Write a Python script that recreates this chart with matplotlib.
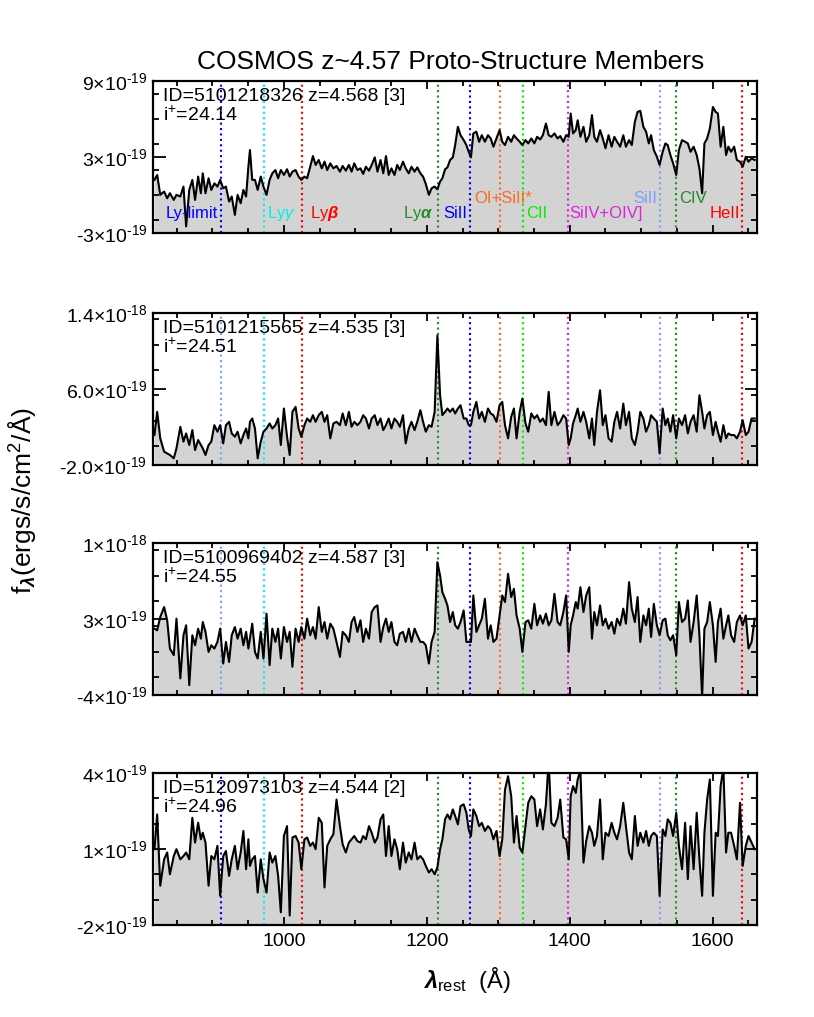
import matplotlib

matplotlib.use("Agg")
import matplotlib.pyplot as plt
import numpy as np
from matplotlib.ticker import FixedLocator, FixedFormatter, MultipleLocator

plt.rcParams["font.family"] = ["Liberation Sans", "DejaVu Sans"]
plt.rcParams["mathtext.fontset"] = "custom"
plt.rcParams["mathtext.rm"] = "Liberation Sans"
plt.rcParams["mathtext.it"] = "Liberation Sans:italic"
plt.rcParams["mathtext.bf"] = "Liberation Sans:bold:italic"

# rest-frame wavelength grid (Angstrom) shared by the four spectra
wave = [
    819.0, 822.8, 827.1, 832.5, 836.8, 840.6, 846.0, 849.8, 855.2, 859.6,
    863.3, 867.7, 872.0, 875.8, 880.1, 883.9, 886.6, 890.4, 894.7, 898.5,
    902.8, 907.1, 910.9, 915.2, 919.0, 923.4, 927.1, 931.5, 935.3, 939.6,
    943.4, 947.2, 950.4, 952.6, 955.8, 959.6, 963.4, 967.7, 971.5, 975.8,
    980.1, 983.9, 988.2, 992.0, 995.8, 1000.1, 1004.5, 1008.2, 1012.0, 1016.4,
    1020.7, 1024.5, 1028.8, 1032.6, 1036.9, 1040.7, 1044.5, 1048.8, 1053.1, 1056.9,
    1060.7, 1065.0, 1069.3, 1073.7, 1078.5, 1082.3, 1086.7, 1091.0, 1094.8, 1098.5,
    1102.9, 1107.2, 1111.0, 1114.8, 1119.1, 1122.9, 1127.2, 1131.0, 1135.3, 1139.1,
    1142.9, 1146.7, 1150.5, 1154.8, 1158.6, 1162.3, 1166.7, 1170.5, 1174.8, 1178.6,
    1182.9, 1186.7, 1191.0, 1194.8, 1198.6, 1202.9, 1206.7, 1211.0, 1214.8, 1218.6,
    1221.8, 1225.6, 1228.9, 1232.6, 1236.4, 1239.7, 1243.5, 1247.2, 1251.6, 1255.4,
    1258.6, 1261.8, 1265.1, 1269.4, 1273.2, 1277.0, 1281.3, 1285.6, 1289.4, 1293.2,
    1297.5, 1301.8, 1305.6, 1309.4, 1313.7, 1318.1, 1321.9, 1325.6, 1330.0, 1333.7,
    1338.1, 1341.9, 1346.2, 1350.5, 1354.3, 1358.6, 1362.4, 1366.7, 1370.5, 1374.3,
    1378.6, 1383.0, 1386.7, 1391.1, 1394.9, 1398.6, 1401.3, 1404.6, 1408.4, 1411.1,
    1414.9, 1419.2, 1423.0, 1427.3, 1431.1, 1434.3, 1438.1, 1442.4, 1446.2, 1450.0,
    1454.3, 1458.6, 1462.4, 1466.2, 1470.5, 1474.9, 1478.6, 1483.0, 1486.8, 1491.1,
    1494.9, 1498.7, 1503.0, 1506.8, 1510.6, 1513.8, 1517.6, 1521.9, 1525.7, 1530.0,
    1533.8, 1537.1, 1540.8, 1544.6, 1549.0, 1552.7, 1557.1, 1561.4, 1565.2, 1569.0,
    1573.3, 1577.6, 1581.4, 1585.2, 1588.4, 1592.2, 1596.0, 1600.3, 1604.1, 1607.3,
    1611.1, 1614.9, 1618.7, 1621.9, 1625.7, 1630.0, 1633.8, 1638.2, 1641.9, 1646.3,
    1650.1, 1654.4, 1658.7,
]

# flux densities in units of 1e-19 ergs/s/cm^2/A
flux_5101218326 = [
    1.19, 1.58, 0.01, 0.27, -0.26, 0.14, -0.39, 0.01, -0.12, 0.66,
    -2.48, 0.40, 1.19, -0.39, 1.45, 0.14, 1.71, 0.14, 1.32, 0.40,
    0.92, 0.66, 1.19, 0.53, 0.66, -0.52, -0.12, -1.57, 0.01, -0.65,
    0.40, -0.12, 2.23, 3.55, 1.19, 1.19, 0.40, 1.45, 0.66, 0.01,
    1.19, 1.71, 1.97, 1.32, 1.97, 1.58, 2.03, 1.45, 1.84, 1.97,
    1.45, 1.19, 1.45, 1.32, 2.23, 3.07, 2.37, 2.76, 2.10, 2.63,
    1.97, 2.50, 2.10, 2.29, 1.84, 2.29, 1.92, 2.37, 1.84, 2.50,
    1.97, 2.10, 1.66, 2.23, 1.92, 2.37, 2.97, 1.84, 2.76, 1.71,
    3.07, 1.58, 2.10, 1.58, 2.37, 1.97, 2.63, 2.10, 1.71, 2.23,
    1.84, 2.18, 1.71, 1.45, 0.87, 0.01, 0.53, 0.66, 0.45, 1.06,
    1.32, 2.03, 2.18, 2.76, 2.97, 3.94, 5.38, 4.72, 4.33, 3.94,
    3.41, 2.97, 4.86, 4.99, 4.20, 4.72, 4.20, 4.72, 4.46, 3.81,
    4.46, 5.12, 4.20, 3.94, 4.59, 4.20, 4.72, 4.46, 4.20, 3.94,
    4.33, 4.07, 4.46, 4.07, 4.59, 4.38, 4.72, 5.64, 4.72, 4.59,
    4.86, 4.46, 4.65, 4.20, 4.72, 4.59, 6.43, 4.86, 5.12, 5.90,
    4.59, 5.38, 4.20, 4.72, 6.30, 4.59, 4.20, 5.12, 4.46, 3.68,
    4.72, 3.81, 4.59, 4.20, 3.81, 4.72, 3.81, 4.33, 3.94, 5.77,
    6.56, 6.64, 5.38, 4.99, 4.07, 4.72, 3.55, 3.02, 2.37, 3.41,
    4.07, 3.94, 3.15, 2.50, 1.58, 3.55, 4.33, 4.20, 4.07, 3.41,
    3.81, 3.15, 2.10, 0.14, 4.07, 4.46, 5.25, 6.95, 6.56, 6.43,
    3.81, 5.38, 3.15, 3.81, 3.41, 3.81, 2.76, 2.63, 2.23, 3.02,
    2.63, 2.89, 2.76,
]

flux_5101215565 = [
    1.15, 3.59, 0.80, -0.60, -0.78, -0.95, -1.30, -0.25, 2.02, 0.45,
    1.32, 0.10, 1.67, -0.43, 0.62, 0.10, -0.25, -0.95, 0.10, 0.45,
    2.19, 1.50, 2.19, 0.27, 2.19, 2.54, 1.32, 0.97, 1.50, 0.27,
    1.15, 1.84, 0.80, 2.54, 2.89, 1.84, -1.30, 0.45, 1.50, 1.84,
    2.37, 1.84, 2.19, 2.89, 0.10, 3.94, 0.97, -0.95, 3.59, 4.12,
    1.84, 0.97, 2.19, 2.89, 2.54, 3.24, 2.54, 3.24, 3.59, 2.54,
    3.24, 0.80, 2.37, 2.54, 2.19, 3.42, 2.19, 3.59, 2.02, 2.54,
    2.19, 2.54, 3.24, 2.89, 1.84, 2.89, 3.24, 2.19, 2.89, 1.67,
    2.19, 2.89, 1.84, 2.89, 2.54, 2.02, 3.24, 0.27, 1.84, 2.54,
    1.67, 2.54, 3.77, 2.54, 1.50, 2.19, 2.02, 3.59, 11.62, 5.34,
    3.24, 3.59, 3.94, 3.59, 3.94, 3.42, 3.94, 4.29, 2.89, 2.89,
    2.19, 2.19, 3.59, 4.64, 2.89, 3.59, 2.54, 3.94, 3.42, 3.24,
    2.54, 4.29, 4.64, 2.19, 0.80, 3.07, 3.94, 0.80, 3.59, 4.99,
    2.37, 1.50, 3.42, 2.89, 3.24, 2.54, 2.89, 2.19, 5.69, 2.19,
    3.59, 2.19, 2.54, 3.24, 2.89, 0.10, 0.80, 2.37, 3.24, 3.94,
    2.54, 3.59, 2.54, 0.80, 2.89, 0.10, 3.59, 5.86, 2.19, 3.24,
    0.80, 0.45, 2.54, 3.59, 1.84, 4.46, 2.19, 3.59, 0.80, 0.10,
    1.50, 3.59, 2.89, 1.50, 2.19, 3.24, 2.89, 2.54, -0.78, 3.94,
    2.19, 2.89, 1.50, 3.24, 0.80, 2.89, 2.19, 3.24, 1.32, 2.54,
    3.24, 1.50, 5.34, 3.59, 1.84, 3.24, 3.59, 1.15, 2.54, 1.50,
    0.45, 2.19, 0.80, 1.32, 1.15, 1.15, 0.80, 1.50, 2.72, 1.15,
    1.50, 2.89, 2.89,
]

flux_5100969402 = [
    2.11, 1.96, 3.18, 4.10, 2.88, 0.28, -0.33, 3.03, -2.47, 1.50,
    2.42, -3.09, 1.50, 0.58, 2.11, 1.19, 2.72, 1.81, -0.03, 0.58,
    0.28, 0.89, 2.11, -1.10, 0.89, -0.95, 1.50, 2.26, 1.19, 2.11,
    0.58, 1.81, 0.28, 1.19, 2.57, -0.03, -0.64, 1.81, -0.64, 3.49,
    -1.25, 2.11, 0.89, 2.11, -0.64, 2.26, 0.89, 1.81, -1.40, 2.11,
    0.89, 2.26, 1.19, 3.03, 1.50, 2.26, 1.19, 4.10, 1.81, 2.72,
    1.19, 2.57, 2.11, 0.89, -0.49, 1.81, 1.50, 0.89, 2.72, 3.18,
    1.81, 2.88, 0.89, 2.11, 1.19, 3.64, 4.10, 4.25, 0.89, 2.26,
    3.03, 1.81, 2.72, 0.89, 0.58, 1.65, 1.81, 0.89, 2.11, 0.89,
    2.11, 1.50, 0.89, 0.89, 0.58, -1.10, 0.89, 1.81, 8.23, 7.00,
    5.47, 4.86, 4.25, 2.72, 3.64, 2.42, 2.11, 2.72, 3.79, 0.89,
    0.89, 0.89, 5.17, 1.81, 2.42, 3.03, 4.86, 1.19, 2.42, 0.89,
    1.19, 3.33, 5.17, 4.56, 7.16, 5.02, 5.78, 3.33, 2.11, -0.03,
    2.72, 2.88, 2.11, 4.40, 2.42, 3.33, 2.57, 3.49, 2.42, 2.88,
    5.32, 2.72, 2.42, 3.64, 5.17, -0.03, 2.42, 3.33, 4.56, 3.95,
    5.93, 3.64, 5.17, 5.93, 1.19, 3.64, 2.42, 4.25, 2.42, 3.03,
    2.11, 2.72, 1.65, 3.03, 2.42, 3.95, 2.57, 6.39, 3.95, 2.72,
    5.02, 0.89, 3.33, 2.42, 3.95, 1.35, 4.40, 2.42, 1.50, 2.88,
    3.03, 1.50, 1.04, 1.50, -0.33, 4.56, 2.72, 3.03, 4.71, 0.89,
    2.72, 5.17, 1.50, -4.20, 2.11, 2.72, 4.56, 2.42, -0.95, 2.72,
    3.95, 1.19, 2.42, 3.33, 1.50, 0.89, 2.72, 3.33, 2.42, 3.33,
    0.28, 0.89, 3.03,
]

flux_5120973103 = [
    0.99, 2.36, -0.45, 0.59, 0.86, 0.00, 0.72, 0.99, 0.59, 0.72,
    0.86, 0.59, 2.23, 1.25, 2.03, 1.38, 1.64, 1.25, -0.45, 0.72,
    0.59, 1.12, -0.85, 0.72, 0.92, -0.06, 0.59, 1.12, 0.20, 0.86,
    1.71, 0.20, 1.38, 0.33, 0.59, 0.72, -0.72, 0.59, -0.19, -0.72,
    0.86, 0.46, 0.72, -0.06, -1.50, 1.51, 1.90, -1.63, 1.45, 1.51,
    1.25, 0.20, 1.38, 1.45, 1.12, 1.25, 0.99, 2.23, 2.03, -0.52,
    1.12, 1.38, 1.58, 2.95, 1.90, 1.18, 0.86, 1.25, 1.38, 1.51,
    1.31, 1.25, 1.51, 1.38, 1.90, 1.64, 1.25, 1.45, 2.17, 2.36,
    0.72, 1.90, 0.72, 1.38, 0.99, 0.20, 1.25, 0.46, 0.86, 0.59,
    1.25, 0.59, 0.72, 0.59, 0.33, 0.07, 0.20, 0.00, 0.27, 0.99,
    1.38, 2.17, 2.36, 2.17, 2.56, 2.30, 1.97, 2.69, 2.76, 2.43,
    1.77, 1.51, 2.56, 2.30, 1.90, 2.03, 1.71, 1.90, 1.77, 1.38,
    1.71, 0.72, 1.38, 3.34, 3.87, 3.08, 1.25, 2.30, 1.05, 0.86,
    1.90, 2.82, 3.08, 2.95, 1.90, 2.56, 1.77, 2.76, 4.50, 2.03,
    1.90, 2.23, 2.95, 1.45, 1.38, 0.59, 3.08, 3.48, 3.21, 3.74,
    4.10, 0.46, 1.31, 1.90, 1.64, 1.12, 1.51, 2.95, 0.59, 1.64,
    1.51, 2.03, 1.64, 1.38, 1.90, 2.82, 1.90, 0.86, 0.59, 2.30,
    1.12, 1.64, 1.25, 1.71, 1.12, 1.51, 1.64, 1.51, -0.85, 1.77,
    1.51, 2.17, 2.03, 1.51, 2.43, 1.12, 0.20, 2.03, -0.19, 1.90,
    0.20, 2.43, 0.59, -0.85, 1.64, 2.95, 3.74, -0.85, 1.64, 1.51,
    3.48, 4.20, 0.86, 1.64, 1.64, 1.12, 0.59, 2.82, 0.33, 1.12,
    1.51, 1.25, 0.99,
]

# panel meta data
ids = ["5101218326", "5101215565", "5100969402", "5120973103"]
redshifts = ["4.568", "4.535", "4.587", "4.544"]
flags = ["3", "3", "3", "2"]
imags = ["24.14", "24.51", "24.55", "24.96"]
ylims = [(-3, 9), (-2, 14), (-4, 10), (-2, 4)]
ytick_vals = [[-3, 3, 9], [-2, 6, 14], [-4, 3, 10], [-2, 1, 4]]
# (mantissa, exponent) of the tick labels
ytick_text = [
    [("-3", "-19"), ("3", "-19"), ("9", "-19")],
    [("-2.0", "-19"), ("6.0", "-19"), ("1.4", "-18")],
    [("-4", "-19"), ("3", "-19"), ("1", "-18")],
    [("-2", "-19"), ("1", "-19"), ("4", "-19")],
]
lylimit_colors = ["#0000ff", "#7f9fff", "#7f9fff", "#0000ff"]

# spectral features: rest wavelength, label, colour
line_waves = [912.0, 972.5, 1025.7, 1215.7, 1260.4, 1303.0, 1334.5, 1397.0, 1526.7, 1549.0, 1640.4]
line_names = ["Ly-limit", r"Ly$\gamma$", r"Ly$\mathbf{\beta}$", r"Ly$\mathbf{\alpha}$", "SiII",
              "OI+SiII*", "CII", "SiIV+OIV]", "SiII", "CIV", "HeII"]
line_colors = ["#0000ff", "#00eeee", "#ff0000", "#228b22", "#0000ff", "#ff6a20",
               "#00ee00", "#dd22dd", "#7f9fff", "#228b22", "#ff0000"]
# label placement (x in Angstrom, alignment, row in axes fraction)
label_x = [908, 977, 1036, 1209, 1257, 1266, 1339, 1399, 1523, 1553, 1638]
label_ha = ["right", "left", "left", "right", "right", "left", "left", "left", "right", "left", "right"]
label_row = [0.125, 0.125, 0.125, 0.125, 0.125, 0.23, 0.125, 0.125, 0.23, 0.23, 0.125]

spectra = [flux_5101218326, flux_5101215565, flux_5100969402, flux_5120973103]


def tick_label(mant, expo):
    return mant + r"×10$^{\text{" + expo + "}}$"


fig = plt.figure(figsize=(8.14, 10.17), dpi=100)
left, width, height = 0.188, 0.742, 0.1495
bottoms = [0.7709, 0.5428, 0.3166, 0.0905]

wave_arr = np.asarray(wave)
for i, flux in enumerate(spectra):
    ax = fig.add_axes([left, bottoms[i], width, height])
    lo, hi = ylims[i]
    f = np.asarray(flux) * 1e-19
    ax.fill_between(wave_arr, f, lo * 1e-19 * 1.5, color="#d3d3d3", lw=0, zorder=1)
    ax.plot(wave_arr, f, color="black", lw=1.5, zorder=3)

    for j, lw_ in enumerate(line_waves):
        col = lylimit_colors[i] if j == 0 else line_colors[j]
        ax.axvline(lw_, color=col, ls=(0, (1, 1.6)), lw=1.5, zorder=2)

    ax.set_xlim(817, 1662)
    ax.set_ylim(lo * 1e-19, hi * 1e-19)
    ax.yaxis.set_major_locator(FixedLocator([v * 1e-19 for v in ytick_vals[i]]))
    ax.yaxis.set_major_formatter(FixedFormatter([tick_label(m, e) for m, e in ytick_text[i]]))
    step = (ytick_vals[i][1] - ytick_vals[i][0]) / 3.0
    ax.yaxis.set_minor_locator(MultipleLocator(step * 1e-19))
    ax.xaxis.set_major_locator(MultipleLocator(200))
    ax.xaxis.set_minor_locator(MultipleLocator(50))
    ax.tick_params(which="both", direction="in", top=True, right=True, width=1.3)
    ax.tick_params(axis="y", which="major", length=9, labelsize=14, pad=4)
    ax.tick_params(axis="y", which="minor", length=4.5)
    ax.tick_params(axis="x", which="major", length=6, labelsize=14, pad=6)
    ax.tick_params(axis="x", which="minor", length=3.5)
    if i < 3:
        ax.set_xticklabels([])
    for sp in ax.spines.values():
        sp.set_linewidth(1.6)
        sp.set_zorder(5)

    ax.text(0.017, 0.895, f"ID={ids[i]} z={redshifts[i]} [{flags[i]}]",
            transform=ax.transAxes, fontsize=14, va="center", ha="left", zorder=6)
    ax.text(0.017, 0.775, r"i$^{+}$=" + imags[i],
            transform=ax.transAxes, fontsize=14, va="center", ha="left", zorder=6)

    if i == 0:
        for j in range(len(line_waves)):
            ax.text(label_x[j], label_row[j], line_names[j], color=line_colors[j],
                    fontsize=12, ha=label_ha[j], va="center", zorder=6,
                    transform=ax.get_xaxis_transform())

fig.text(0.554, 0.939, "COSMOS z~4.57 Proto-Structure Members", fontsize=19,
         ha="center", va="center")
fig.text(0.027, 0.508, r"f$_{\mathbf{\lambda}}$(ergs/s/cm$^{2}$/Å)", fontsize=19,
         rotation=90, ha="center", va="center")
fig.text(0.574, 0.036, r"$\mathbf{\lambda}_{\mathrm{rest}}$  (Å)", fontsize=17,
         ha="center", va="center")

fig.savefig("out.png", dpi=100)
